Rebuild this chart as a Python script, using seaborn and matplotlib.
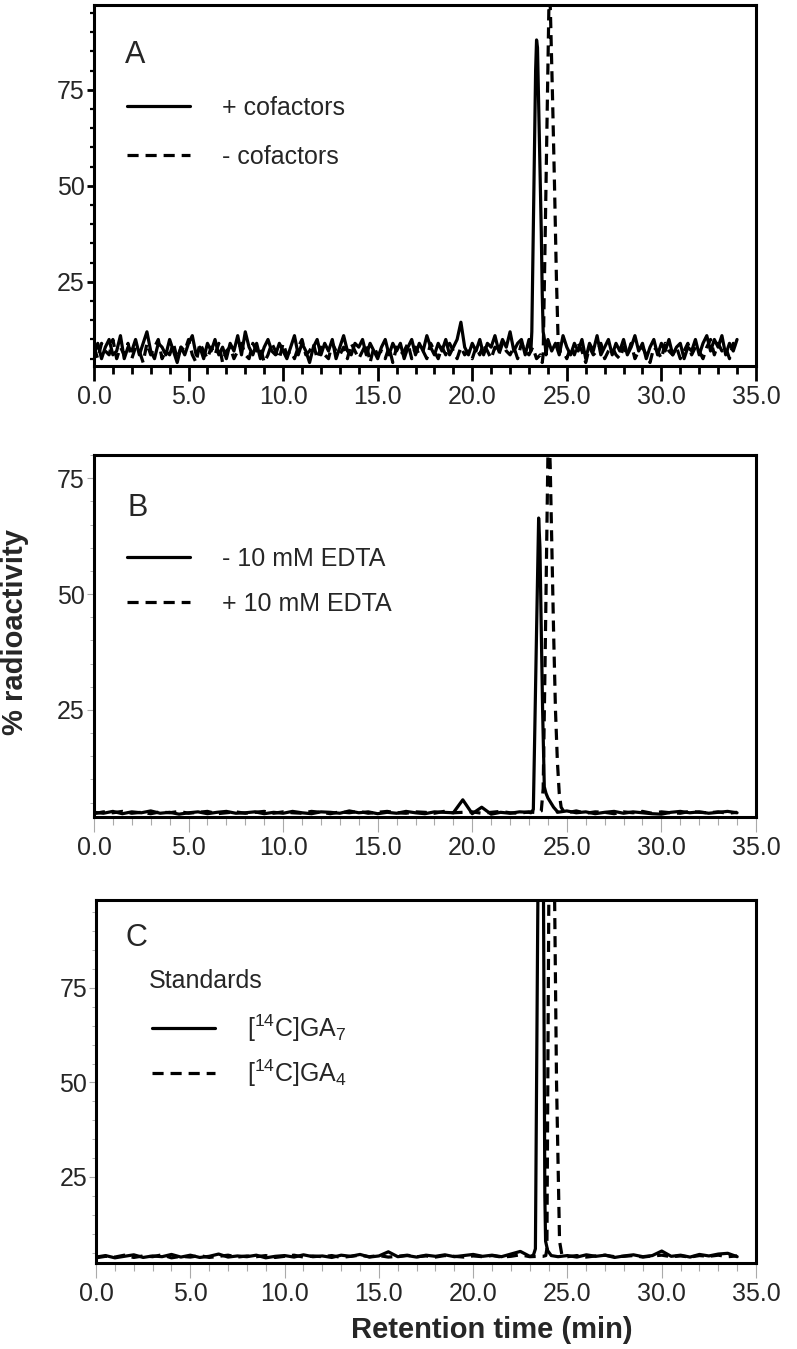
import numpy as np
import seaborn as sns
import matplotlib.pyplot as plt
from matplotlib.ticker import MultipleLocator, FormatStrFormatter

sns.set_style('ticks')
plt.rcParams['font.family'] = ['Liberation Sans', 'DejaVu Sans']
plt.rcParams['mathtext.fontset'] = 'custom'
plt.rcParams['mathtext.rm'] = 'Liberation Sans'
plt.rcParams['lines.scale_dashes'] = False

# time grids the traces were read on (min)
grid_a = np.round(np.arange(0, 34.01, 0.2), 1)
grid_bc = np.round(np.arange(0, 34.01, 0.5), 1)

# ---- panel A : baselines read every 0.2 min, peaks read separately ----
a_plus_base = [6, 9, 5, 8, 10, 6, 7, 11, 5, 8,
               7, 10, 6, 9, 12, 7, 5, 9, 8, 6,
               10, 7, 4, 8, 6, 9, 11, 6, 8, 5,
               9, 7, 10, 6, 8, 5, 9, 7, 11, 6,
               12, 8, 6, 9, 5, 8, 10, 7, 6, 9,
               7, 5, 8, 11, 6, 9, 7, 4, 8, 10,
               6, 9, 7, 10, 5, 8, 11, 7, 6, 9,
               8, 10, 6, 9, 7, 5, 8, 10, 6, 9,
               7, 9, 5, 8, 10, 6, 9, 7, 11, 8,
               6, 9, 7, 10, 6, 8, 10, 14.5, 8, 6,
               9, 7, 10, 6, 9, 8, 11, 7, 10, 8,
               12, 7, 9, 10, 6, 9, 8, 7, 9, 8,
               10, 7, 9, 6, 11, 8, 6, 9, 7, 10,
               5, 9, 7, 11, 6, 8, 10, 6, 9, 7,
               10, 6, 8, 11, 7, 9, 5, 8, 10, 6,
               9, 7, 10, 6, 8, 9, 5, 8, 7, 10,
               6, 9, 11, 7, 10, 8, 11, 6, 9, 7,
               10]
a_minus_base = [8, 5, 9, 7, 6, 10, 5, 8, 6, 9,
                5, 8, 7, 4, 9, 6, 8, 10, 5, 7,
                6, 9, 5, 8, 7, 10, 6, 4, 9, 7,
                5, 8, 6, 9, 4, 7, 8, 5, 7, 9,
                6, 5, 9, 7, 8, 4, 6, 9, 7, 5,
                9, 6, 7, 5, 8, 10, 6, 7, 9, 5,
                8, 6, 5, 9, 7, 6, 8, 5, 9, 7,
                5, 7, 9, 4, 8, 6, 7, 5, 8, 4,
                8, 6, 7, 9, 5, 8, 6, 7, 5, 9,
                7, 5, 8, 6, 9, 7, 5, 8, 6, 7,
                5, 8, 6, 9, 7, 5, 8, 6, 9, 7,
                6, 8, 5, 9, 7, 6, 8, 5, 7, 6,
                8, 6, 9, 11, 7, 5, 8, 6, 9, 7,
                4, 8, 6, 7, 9, 5, 7, 8, 6, 5,
                8, 6, 9, 5, 7, 8, 6, 4, 8, 7,
                5, 9, 7, 6, 8, 5, 7, 9, 6, 8,
                7, 5, 8, 10, 6, 9, 7, 8, 5, 9,
                7]
a_plus_peak_t = [22.9, 23.0, 23.1, 23.15, 23.25, 23.35, 23.4, 23.45, 23.5, 23.6, 23.65, 23.7, 23.75, 23.85, 23.9]
a_plus_peak_y = [8, 10, 7, 12, 46, 80, 88, 86, 74, 50, 38, 22, 12, 9, 6]
a_minus_peak_t = [23.6, 23.7, 23.75, 23.85, 23.95, 24.05, 24.08, 24.15, 24.25, 24.35, 24.45, 24.55, 24.65]
a_minus_peak_y = [6, 4, 6, 35, 66, 96, 105, 92, 72, 50, 26, 8, 7]

# ---- panel B : baselines every 0.5 min ----
b_minus_base = [2.9, 2.7, 3.1, 2.6, 3.0, 2.8, 3.2, 2.7, 2.9, 2.5,
                2.8, 3.0, 2.6, 2.9, 3.1, 2.7, 2.8, 3.0, 2.6, 2.9,
                2.7, 3.1, 2.8, 2.6, 3.0, 2.9, 2.7, 3.2, 2.8, 3.0,
                2.6, 2.9, 2.7, 3.1, 2.8, 2.6, 3.0, 2.9, 2.8, 5.6,
                2.6, 4.0, 2.5, 2.9, 2.7, 3.0, 2.9, 2.8, 3.1, 2.9,
                3.2, 2.8, 3.0, 2.6, 2.9, 3.1, 2.7, 3.0, 2.8, 2.6,
                2.5, 2.9, 3.1, 2.8, 3.0, 2.7, 2.9, 3.1, 2.8]
b_plus_base = [2.6, 3.0, 2.8, 3.1, 2.7, 2.9, 2.6, 3.0, 2.8, 3.1,
               2.7, 2.9, 3.1, 2.6, 2.8, 3.0, 2.7, 2.9, 3.1, 2.7,
               3.0, 2.8, 2.7, 3.1, 2.9, 2.6, 3.0, 2.8, 3.1, 2.7,
               2.9, 3.1, 2.8, 2.7, 3.0, 2.9, 2.7, 3.1, 2.8, 2.9,
               3.0, 2.7, 2.9, 3.1, 2.8, 2.7, 3.0, 2.9, 2.8, 3.0,
               2.8, 3.2, 2.7, 3.0, 2.9, 2.6, 3.0, 2.8, 3.1, 2.7,
               3.0, 2.8, 2.7, 3.1, 2.9, 2.8, 3.0, 2.7, 2.9]
b_minus_peak_t = [23.1, 23.23, 23.3, 23.4, 23.51, 23.58, 23.65, 23.72, 23.81, 23.9, 24.0, 24.15, 24.3, 24.47]
b_minus_peak_y = [2.8, 3.5, 19, 42, 66.4, 60, 42, 25, 8.4, 7, 6, 5, 4, 3.2]
b_plus_peak_t = [23.5, 23.65, 23.75, 23.85, 23.95, 24.0, 24.05, 24.12, 24.2, 24.3, 24.4, 24.5, 24.6, 24.7, 24.85]
b_plus_peak_y = [2.8, 3.2, 8, 35, 65, 80, 86, 78, 62, 42, 25, 14, 7, 4, 3]

# ---- panel C : standards ----
c_ga7_base = [3.8, 4.2, 3.6, 4.0, 4.4, 3.7, 4.1, 3.9, 4.5, 3.8,
              4.3, 3.7, 4.0, 4.6, 3.8, 4.1, 3.9, 4.3, 3.6, 4.0,
              4.2, 3.8, 4.4, 3.9, 4.1, 3.7, 4.3, 4.0, 4.5, 3.8,
              4.1, 5.2, 3.9, 4.2, 3.8, 4.3, 4.0, 4.4, 3.9, 4.2,
              4.5, 4.0, 4.3, 3.9, 4.6, 5.3, 4.0, 4.0, 4.0, 3.9,
              4.2, 3.8, 4.4, 4.0, 4.3, 3.7, 4.1, 4.4, 3.9, 4.2,
              5.4, 4.0, 4.3, 3.8, 4.5, 4.1, 4.6, 4.8, 3.9]
c_ga4_base = [3.6, 4.0, 3.8, 4.3, 3.7, 4.1, 3.9, 4.4, 3.6, 4.0,
              3.8, 4.2, 3.7, 4.0, 4.3, 3.8, 4.1, 3.9, 4.2, 3.7,
              4.0, 4.3, 3.8, 4.1, 3.9, 4.2, 3.7, 4.0, 4.3, 3.9,
              4.2, 3.8, 4.0, 4.3, 3.9, 4.1, 3.8, 4.2, 4.0, 3.8,
              4.1, 3.9, 4.2, 3.8, 4.0, 4.4, 3.9, 4.0, 4.0, 4.0,
              3.9, 4.2, 3.8, 4.1, 4.3, 3.9, 4.0, 4.2, 3.8, 4.1,
              4.3, 3.9, 4.1, 3.8, 4.2, 4.0, 4.3, 3.9, 4.1]
c_ga7_peak_t = [23.1, 23.2, 23.3, 23.43, 23.58, 23.73, 23.8, 23.84, 23.95, 24.14]
c_ga7_peak_y = [4.1, 4.4, 6, 98, 170, 98, 20, 8, 5.5, 4.2]
c_ga4_peak_t = [23.7, 23.85, 23.91, 24.01, 24.1, 24.32, 24.42, 24.58, 24.7, 24.8]
c_ga4_peak_y = [4, 4.2, 6, 98, 175, 98, 50, 8, 4.5, 4]

x_ticks = [0, 5, 10, 15, 20, 25, 30, 35]
y_ticks = [25, 50, 75]


def merge(t_base, y_base, t_peak, y_peak):
    t_base = np.asarray(t_base, float)
    y_base = np.asarray(y_base, float)
    keep = (t_base < min(t_peak)) | (t_base > max(t_peak))
    t = np.concatenate([t_base[keep], t_peak])
    y = np.concatenate([y_base[keep], y_peak])
    order = np.argsort(t)
    return t[order], y[order]


def draw(ax, traces, ylim, heavy):
    lines = []
    for (t, y), dashed in traces:
        sns.lineplot(x=t, y=y, ax=ax, color='black', lw=2.3, estimator=None, legend=False)
        line = ax.lines[-1]
        if dashed:
            line.set_dashes([8, 5])
        lines.append(line)
    ax.set_xlim(0, 35)
    ax.set_ylim(*ylim)
    ax.set_xticks(x_ticks)
    ax.xaxis.set_major_formatter(FormatStrFormatter('%.1f'))
    ax.xaxis.set_minor_locator(MultipleLocator(1))
    ax.set_yticks(y_ticks)
    ax.yaxis.set_minor_locator(MultipleLocator(5))
    for s in ax.spines.values():
        s.set_linewidth(2.2)
        s.set_color('black')
    tcol = 'black' if heavy else '#aaaaaa'
    tw = 2.0 if heavy else 0.8
    ax.tick_params(axis='x', which='major', length=11, width=tw, color=tcol, labelsize=18, pad=3)
    ax.tick_params(axis='x', which='minor', length=6, width=tw, color=tcol)
    ax.tick_params(axis='y', which='major', length=5, width=tw, color=tcol, labelsize=18, pad=1.5)
    ax.tick_params(axis='y', which='minor', length=3, width=tw * 0.8, color=tcol)
    ax.set_xlabel('')
    ax.set_ylabel('')
    return lines


fig = plt.figure(figsize=(7.97, 13.49), dpi=100)
ax_a = fig.add_axes([0.1179, 0.7287, 0.8306, 0.2676])
ax_b = fig.add_axes([0.1179, 0.3944, 0.8306, 0.2683])
ax_c = fig.add_axes([0.1205, 0.0638, 0.8281, 0.2691])

# panel A
la = draw(ax_a, [(merge(grid_a, a_minus_base, a_minus_peak_t, a_minus_peak_y), True),
                 (merge(grid_a, a_plus_base, a_plus_peak_t, a_plus_peak_y), False)],
          (3.1, 97.1), heavy=True)
ax_a.text(0.047, 0.861, 'A', transform=ax_a.transAxes, fontsize=22, va='center', ha='left')
ax_a.legend(handles=[la[1], la[0]], labels=['+ cofactors', '- cofactors'],
            loc='upper left', bbox_to_anchor=(0.05, 0.748), frameon=False, fontsize=18,
            handlelength=2.5, handletextpad=1.3, labelspacing=0.99, borderpad=0, borderaxespad=0)

# panel B
lb = draw(ax_b, [(merge(grid_bc, b_plus_base, b_plus_peak_t, b_plus_peak_y), True),
                 (merge(grid_bc, b_minus_base, b_minus_peak_t, b_minus_peak_y), False)],
          (1.9, 80.0), heavy=False)
ax_b.text(0.05, 0.853, 'B', transform=ax_b.transAxes, fontsize=22, va='center', ha='left')
ax_b.legend(handles=[lb[1], lb[0]], labels=['- 10 mM EDTA', '+ 10 mM EDTA'],
            loc='upper left', bbox_to_anchor=(0.05, 0.746), frameon=False, fontsize=18,
            handlelength=2.5, handletextpad=1.3, labelspacing=0.84, borderpad=0, borderaxespad=0)

# panel C
lc = draw(ax_c, [(merge(grid_bc, c_ga4_base, c_ga4_peak_t, c_ga4_peak_y), True),
                 (merge(grid_bc, c_ga7_base, c_ga7_peak_t, c_ga7_peak_y), False)],
          (2.25, 98.3), heavy=False)
ax_c.text(0.045, 0.896, 'C', transform=ax_c.transAxes, fontsize=22, va='center', ha='left')
ax_c.text(0.08, 0.777, 'Standards', transform=ax_c.transAxes, fontsize=18, va='center', ha='left')
ax_c.legend(handles=[lc[1], lc[0]],
            labels=[r'[$\mathregular{^{14}}$C]GA$\mathregular{_7}$', r'[$\mathregular{^{14}}$C]GA$\mathregular{_4}$'],
            loc='upper left', bbox_to_anchor=(0.085, 0.69), frameon=False, fontsize=18,
            handlelength=2.5, handletextpad=1.3, labelspacing=0.55, borderpad=0, borderaxespad=0)

fig.text(0.019, 0.5315, '% radioactivity', rotation=90, fontsize=21, fontweight='bold',
         ha='center', va='center')
fig.text(0.617, 0.014, 'Retention time (min)', fontsize=21, fontweight='bold',
         ha='center', va='center')

fig.savefig('out.png', dpi=100)
